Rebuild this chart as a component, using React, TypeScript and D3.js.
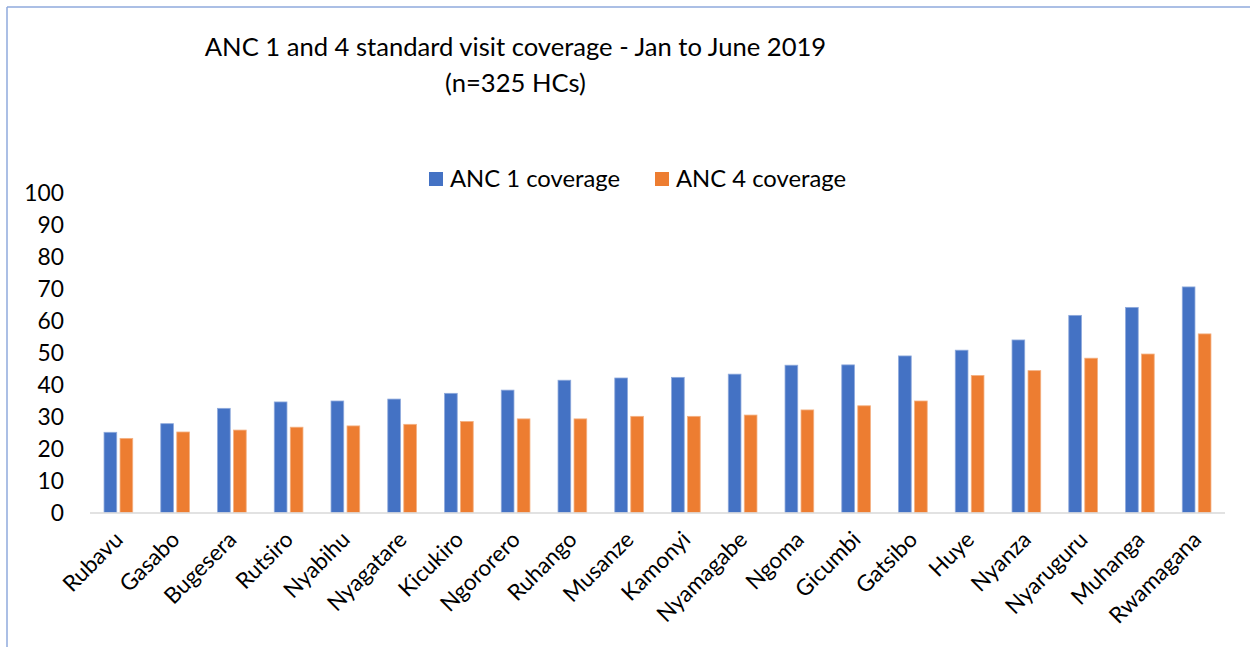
import React from "react";
import * as d3 from "d3";

const districts = ["Rubavu","Gasabo","Bugesera","Rutsiro","Nyabihu","Nyagatare","Kicukiro","Ngororero","Ruhango","Musanze","Kamonyi","Nyamagabe","Ngoma","Gicumbi","Gatsibo","Huye","Nyanza","Nyaruguru","Muhanga","Rwamagana"];
const anc1 = [25.1,27.8,32.6,34.6,34.9,35.5,37.3,38.3,41.4,42.1,42.3,43.3,46.1,46.2,49.0,50.8,54.0,61.7,64.2,70.6];
const anc4 = [23.2,25.2,25.8,26.7,27.1,27.6,28.5,29.3,29.3,30.1,30.1,30.5,32.1,33.4,34.9,42.9,44.4,48.3,49.6,55.9];
const yTicks = [0,10,20,30,40,50,60,70,80,90,100];
const seriesNames = ["ANC 1 coverage","ANC 4 coverage"];
const colors = ["#4472C4","#ED7D31"];
const strokes = ["#8FAADC","#F4B183"];
const titleLines = ["ANC 1 and 4 standard visit coverage - Jan to June 2019","(n=325 HCs)"];

const W = 1250, H = 647;
const FONT = "Lato, 'Open Sans', sans-serif";

export default function App() {
  const x = d3.scaleBand<string>().domain(districts).range([90, 1225]).paddingInner(0).paddingOuter(0);
  const y = d3.scaleLinear().domain([0, 100]).range([512.5, 193]);
  const step = x.bandwidth();
  const barW = 12.7;
  const gap = 3.3;
  const series = [anc1, anc4];
  return (
    <svg width={W} height={H} style={{ position: "absolute", left: 0, top: 0, background: "#fff" }} fontFamily={FONT}>
      <rect x={0} y={0} width={W} height={H} fill="#fff" />
      <line x1={7} y1={7} x2={W} y2={7} stroke="#8FAADC" strokeWidth={1.5} />
      <line x1={7} y1={7} x2={7} y2={H} stroke="#8FAADC" strokeWidth={1.5} />
      <text x={515.5} y={56} textAnchor="middle" fontSize={25.6} fill="#000">{titleLines[0]}</text>
      <text x={515.5} y={92} textAnchor="middle" fontSize={25.6} fill="#000">{titleLines[1]}</text>
      {/* legend */}
      {[0, 1].map((i) => {
        const lx = i === 0 ? 429 : 655;
        return (
          <g key={i}>
            <rect x={lx} y={172} width={14} height={14} fill={colors[i]} />
            <text x={lx + 21} y={187} fontSize={23.8} fill="#000">{seriesNames[i]}</text>
          </g>
        );
      })}
      {/* y axis labels */}
      {yTicks.map((t) => (
        <text key={t} x={64} y={y(t)} dy="0.36em" textAnchor="end" fontSize={22.8} fill="#000">{t}</text>
      ))}
      {/* bars */}
      {districts.map((d, i) => {
        const c = (x(d) as number) + step / 2;
        return (
          <g key={d}>
            {series.map((s, k) => {
              const bx = k === 0 ? c - gap / 2 - barW : c + gap / 2;
              return (
                <rect key={k} x={bx} y={y(s[i])} width={barW} height={y(0) - y(s[i])} fill={colors[k]} stroke={strokes[k]} strokeWidth={0.8} />
              );
            })}
          </g>
        );
      })}
      <line x1={90} x2={1225} y1={y(0) + 0.5} y2={y(0) + 0.5} stroke="#D9D9D9" strokeWidth={1.5} />
      {/* x labels */}
      {districts.map((d) => {
        const c = (x(d) as number) + step / 2;
        return (
          <text key={d} transform={`translate(${c + 6},${541}) rotate(-45)`} textAnchor="end" fontSize={22.5} fill="#000">{d}</text>
        );
      })}
    </svg>
  );
}
